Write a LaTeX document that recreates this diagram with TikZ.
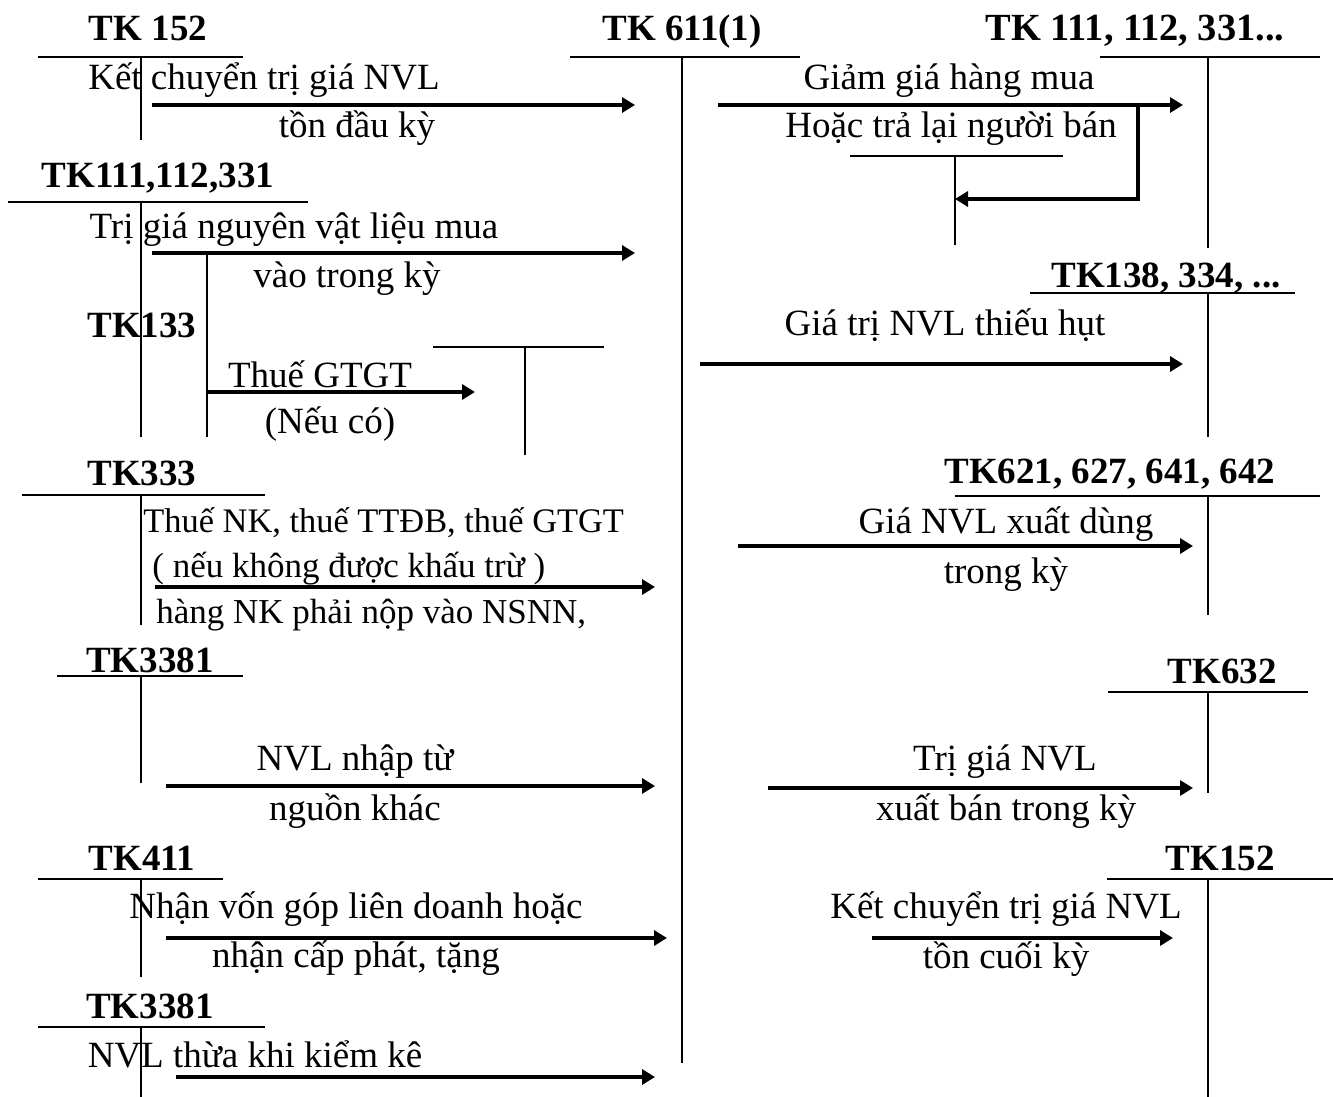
\documentclass[tikz,border=0pt]{standalone}
\usepackage{fontspec}
\setmainfont{Liberation Serif}
\usetikzlibrary{arrows.meta}
\begin{document}
\begin{tikzpicture}[x=0.5pt,y=-0.5pt,
  font=\fontsize{18.5}{22}\selectfont,
  acct/.style={line width=0.9pt},
  flow/.style={line width=1.6pt,-{Triangle[length=6.5pt,width=7.5pt]}},
  lbl/.style={inner sep=0pt,anchor=base},
  lblw/.style={inner sep=0pt,anchor=base west,font=\fontsize{17.5}{21}\selectfont},
  acc/.style={inner sep=0pt,anchor=base,font=\fontsize{18.5}{22}\selectfont\bfseries}]
\useasboundingbox (0,0) rectangle (1333,1097);

% ---------- account titles ----------
\node[acc] (a152)  at (148,41)   {TK 152};
\node[acc] (a111)  at (158,187)  {TK111,112,331};
\node[acc] (a133)  at (142,337)  {TK133};
\node[acc] (a333)  at (142,485)  {TK333};
\node[acc] (a3381) at (150,672)  {TK3381};
\node[acc] (a411)  at (142,870)  {TK411};
\node[acc] (a3381b) at (150,1018) {TK3381};
\node[acc] (a611)  at (682,41)   {TK 611(1)};
\node[acc,font=\fontsize{19.2}{22}\selectfont\bfseries] (a111r) at (1135,41) {TK 111, 112, 331...};
\node[acc] (a138)  at (1166,287) {TK138, 334, ...};
\node[acc] (a621)  at (1110,483) {TK621, 627, 641, 642};
\node[acc] (a632)  at (1222,683) {TK632};
\node[acc] (a152r) at (1220,870) {TK152};

% ---------- T-accounts, left column ----------
\draw[acct] (38,57) -- (243,57) (141,57) -- (141,140);
\draw[acct] (8,202) -- (308,202) (141,202) -- (141,437);
\draw[acct] (207,253) -- (207,437);
\draw[acct] (433,347) -- (604,347) (525,347) -- (525,455);
\draw[acct] (22,495) -- (265,495) (141,495) -- (141,625);
\draw[acct] (57,676) -- (243,676) (141,676) -- (141,783);
\draw[acct] (38,879) -- (223,879) (141,879) -- (141,977);
\draw[acct] (38,1027) -- (265,1027) (141,1027) -- (141,1097);

% ---------- T-accounts, centre and right ----------
\draw[acct] (570,57) -- (800,57) (682,57) -- (682,1063);
\draw[acct] (1100,57) -- (1320,57) (1208,57) -- (1208,248);
\draw[acct] (850,156) -- (1063,156) (955,156) -- (955,245);
\draw[acct] (1030,293) -- (1295,293) (1208,293) -- (1208,437);
\draw[acct] (955,496) -- (1320,496) (1208,496) -- (1208,615);
\draw[acct] (1108,692) -- (1308,692) (1208,692) -- (1208,793);
\draw[acct] (1107,879) -- (1333,879) (1208,879) -- (1208,1097);

% ---------- debit entries into TK 611 ----------
\draw[flow] (152,105) -- (635,105);
\node[lbl] (t1a) at (264,90)  {Kết chuyển trị giá NVL};
\node[lbl] (t1b) at (357,138) {tồn đầu kỳ};

\draw[flow] (152,253) -- (635,253);
\node[lbl] (t2a) at (294,238) {Trị giá nguyên vật liệu mua};
\node[lbl] (t2b) at (347,287) {vào trong kỳ};

\draw[flow] (207,392) -- (475,392);
\node[lbl] (t3a) at (320,387) {Thuế GTGT};
\node[lbl] (t3b) at (330,433) {(Nếu có)};

\draw[flow] (155,587) -- (655,587);
\node[lblw,font=\fontsize{17.2}{21}\selectfont] (t4a) at (143,532) {Thuế NK, thuế TTĐB, thuế GTGT};
\node[lblw] (t4b) at (152,577) {( nếu không được khấu trừ )};
\node[lblw] (t4c) at (156,623) {hàng NK phải nộp vào NSNN,};

\draw[flow] (166,786) -- (655,786);
\node[lbl] (t5a) at (355,770) {NVL nhập từ};
\node[lbl] (t5b) at (355,820) {nguồn khác};

\draw[flow] (166,938) -- (667,938);
\node[lbl] (t6a) at (356,918) {Nhận vốn góp liên doanh hoặc};
\node[lbl] (t6b) at (356,967) {nhận cấp phát, tặng};

\draw[flow] (176,1077) -- (655,1077);
\node[lbl] (t7a) at (255,1067) {NVL thừa khi kiểm kê};

% ---------- credit entries out of TK 611 ----------
\draw[flow] (718,105) -- (1183,105);
\draw[flow] (1138,105) -- (1138,199) -- (955,199);
\node[lbl] (r1a) at (949,90)  {Giảm giá hàng mua};
\node[lbl] (r1b) at (951,138) {Hoặc trả lại người bán};

\draw[flow] (700,364) -- (1183,364);
\node[lbl] (r2a) at (945,335) {Giá trị NVL thiếu hụt};

\draw[flow] (738,546) -- (1193,546);
\node[lbl] (r3a) at (1006,533) {Giá NVL xuất dùng};
\node[lbl] (r3b) at (1006,583) {trong kỳ};

\draw[flow] (768,788) -- (1193,788);
\node[lbl] (r4a) at (1005,770) {Trị giá NVL};
\node[lbl] (r4b) at (1006,820) {xuất bán trong kỳ};

\draw[flow] (872,938) -- (1173,938);
\node[lbl] (r5a) at (1006,918) {Kết chuyển trị giá NVL};
\node[lbl] (r5b) at (1006,968) {tồn cuối kỳ};
\end{tikzpicture}
\end{document}
